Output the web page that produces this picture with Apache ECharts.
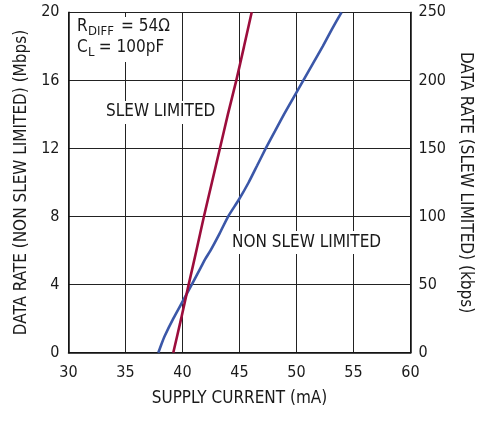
<!DOCTYPE html>
<html>
<head>
<meta charset="utf-8">
<script src="https://cdn.jsdelivr.net/npm/echarts@6/dist/echarts.min.js"></script>
<style>
html,body{margin:0;padding:0;background:#fff;}
#c{width:484px;height:421px;}
</style>
</head>
<body>
<div id="c"></div>
<script>
// Supply current (mA) vs data rate
var xTicks = [30, 35, 40, 45, 50, 55, 60];
var leftTicks = [0, 4, 8, 12, 16, 20];
var rightTicks = [0, 50, 100, 150, 200, 250];

// Non slew limited (left axis, Mbps)
var nonSlewCurrent = [37.88, 38.15, 38.45, 39.19, 40.0, 40.81, 41.6, 41.99, 42.45, 43.25, 44.0, 44.95, 45.8, 46.55, 47.3, 48.1, 48.9, 49.75, 50.6, 51.45, 52.3, 53.1, 53.95];
var nonSlewRate    = [0, 0.5, 1, 2, 3, 4, 5, 5.5, 6, 7, 8, 9, 10, 11, 12, 13, 14, 15, 16, 17, 18, 19, 20];

// Slew limited (right axis, kbps)
var slewCurrent = [39.19, 39.88, 40.54, 41.22, 41.88, 42.58, 43.28, 43.98, 44.72, 45.4, 46.07];
var slewRate    = [0, 25, 50, 75, 100, 125, 150, 175, 200, 225, 250];

var FONT = "'DejaVu Sans Condensed', sans-serif";

function pairs(xs, ys) { return xs.map(function (x, i) { return [x, ys[i]]; }); }

var chart = echarts.init(document.getElementById('c'), null, {renderer: 'canvas'});
var nameText = {color: '#1a1a1a', fontFamily: FONT, fontSize: 17};
var tickText = {color: '#1a1a1a', fontFamily: FONT, fontSize: 16};
chart.setOption({
  animation: false,
  backgroundColor: '#fff',
  grid: {left: 68.5, right: 73.5, top: 12.3, bottom: 68.3, containLabel: false},
  xAxis: {
    type: 'value', min: xTicks[0], max: xTicks[xTicks.length - 1], interval: 5,
    name: 'SUPPLY CURRENT (mA)', nameLocation: 'middle', nameGap: 37,
    nameTextStyle: nameText,
    axisLine: {onZero: false, lineStyle: {color: '#111', width: 1.5}},
    axisTick: {show: false},
    axisLabel: Object.assign({margin: 12}, tickText),
    splitLine: {show: true, lineStyle: {color: '#222', width: 1}}
  },
  yAxis: [{
    type: 'value', min: leftTicks[0], max: leftTicks[leftTicks.length - 1], interval: 4,
    position: 'left',
    name: 'DATA RATE (NON SLEW LIMITED) (Mbps)', nameLocation: 'middle', nameGap: 24,
    nameTextStyle: nameText,
    axisLine: {show: true, lineStyle: {color: '#111', width: 1.5}},
    axisTick: {show: false},
    axisLabel: Object.assign({margin: 9}, tickText),
    splitLine: {show: true, lineStyle: {color: '#222', width: 1}}
  }, {
    type: 'value', min: rightTicks[0], max: rightTicks[rightTicks.length - 1], interval: 50,
    position: 'right',
    name: 'DATA RATE (SLEW LIMITED) (kbps)', nameLocation: 'middle', nameGap: 28, nameRotate: -90,
    nameTextStyle: nameText,
    axisLine: {show: true, lineStyle: {color: '#111', width: 1.5}},
    axisTick: {show: false},
    axisLabel: Object.assign({margin: 8}, tickText),
    splitLine: {show: false}
  }],
  series: [{
    name: 'NON SLEW LIMITED', type: 'line', yAxisIndex: 0,
    data: pairs(nonSlewCurrent, nonSlewRate),
    showSymbol: false, smooth: 0.2,
    lineStyle: {color: '#3b57a8', width: 2.6}
  }, {
    name: 'SLEW LIMITED', type: 'line', yAxisIndex: 1,
    data: pairs(slewCurrent, slewRate),
    showSymbol: false, smooth: 0.2,
    lineStyle: {color: '#9c0d3c', width: 2.6}
  }],
  graphic: [
    {type: 'rect', shape: {x: 75, y: 17, width: 96, height: 45}, style: {fill: '#fff'}, z: 5},
    {type: 'text', left: 77, top: 18, z: 10, style: {text: 'R', font: '17px ' + FONT, fill: '#1a1a1a'}},
    {type: 'text', left: 88, top: 25, z: 10, style: {text: 'DIFF', font: '13px ' + FONT, fill: '#1a1a1a'}},
    {type: 'text', left: 121, top: 18, z: 10, style: {text: '= 54Ω', font: '17px ' + FONT, fill: '#1a1a1a'}},
    {type: 'text', left: 77, top: 39, z: 10, style: {text: 'C', font: '17px ' + FONT, fill: '#1a1a1a'}},
    {type: 'text', left: 88, top: 46, z: 10, style: {text: 'L', font: '13px ' + FONT, fill: '#1a1a1a'}},
    {type: 'text', left: 94, top: 39, z: 10, style: {text: ' = 100pF', font: '17px ' + FONT, fill: '#1a1a1a'}},
    {type: 'rect', shape: {x: 104, y: 101, width: 112, height: 23}, style: {fill: '#fff'}, z: 5},
    {type: 'text', left: 106, top: 103, z: 10, style: {text: 'SLEW LIMITED', font: '17px ' + FONT, fill: '#1a1a1a'}},
    {type: 'rect', shape: {x: 229, y: 231, width: 152, height: 23}, style: {fill: '#fff'}, z: 5},
    {type: 'text', left: 232, top: 234, z: 10, style: {text: 'NON SLEW LIMITED', font: '17px ' + FONT, fill: '#1a1a1a'}}
  ]
});
</script>
</body>
</html>
